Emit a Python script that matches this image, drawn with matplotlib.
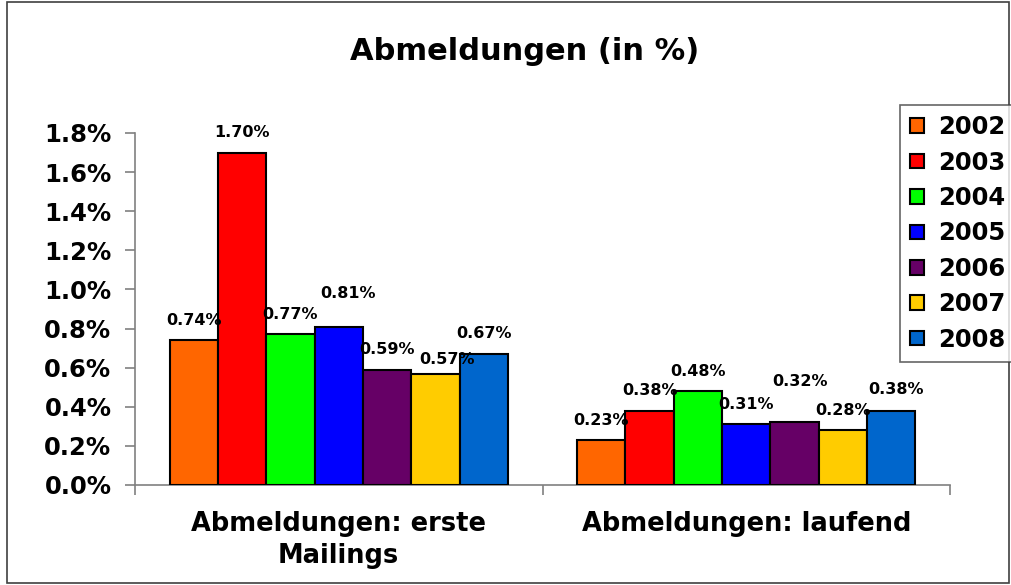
import matplotlib
matplotlib.use("Agg")
import matplotlib.pyplot as plt
import numpy as np
from matplotlib.patches import Rectangle
from matplotlib.ticker import FuncFormatter, FixedLocator

categories = ["Abmeldungen: erste\nMailings", "Abmeldungen: laufend"]
years = ["2002", "2003", "2004", "2005", "2006", "2007", "2008"]
values = {
    "2002": [0.74, 0.23],
    "2003": [1.70, 0.38],
    "2004": [0.77, 0.48],
    "2005": [0.81, 0.31],
    "2006": [0.59, 0.32],
    "2007": [0.57, 0.28],
    "2008": [0.67, 0.38],
}
colors = ["#FF6600", "#FF0000", "#00FF00", "#0000FF", "#660066", "#FFCC00", "#0066CC"]
yticks = [0.0, 0.2, 0.4, 0.6, 0.8, 1.0, 1.2, 1.4, 1.6, 1.8]

# label nudges (pixels: dx, dy above bar top) where the reference deviates
label_nudge = {("2005", 0): (9, 33), ("2007", 0): (12, 14),
               ("2006", 1): (5, 41), ("2008", 1): (5, 21)}
default_dy = 20

fig = plt.figure(figsize=(10.12, 5.85), dpi=100)
ax = fig.add_axes([135/1012, 1-485/585, (950-135)/1012, (485-133)/585])

# figure border
fig.patches.append(Rectangle((7/1012, 2/585), (1009-7)/1012, (583-2)/585,
                             transform=fig.transFigure, fill=False,
                             edgecolor="#404040", linewidth=1.2))

px2pt = 72 / 100
n = len(years)
group_w = 0.83
bw = group_w / n
x = np.arange(len(categories))
for i, (yr, c) in enumerate(zip(years, colors)):
    pos = x - group_w/2 + bw*(i+0.5)
    bars = ax.bar(pos, values[yr], width=bw, color=c, edgecolor="black",
                  linewidth=1.5, label=yr, zorder=3)
    for j, (b, v) in enumerate(zip(bars, values[yr])):
        dx, dy = label_nudge.get((yr, j), (0, default_dy))
        ax.annotate(f"{v:.2f}%", (b.get_x()+b.get_width()/2, v),
                    xytext=(dx*px2pt, dy*px2pt), textcoords="offset points",
                    ha="center", va="center", fontsize=11.5, fontweight="bold",
                    zorder=4)

ax.set_xlim(-0.5, 1.5)
ax.set_ylim(0, 1.8)
ax.set_yticks(yticks)
ax.yaxis.set_major_formatter(FuncFormatter(lambda v, p: f"{v:.1f}%"))
ax.tick_params(axis="y", labelsize=17.5, colors="#808080", labelcolor="black",
               length=7, width=1.2, direction="out", pad=10)
for lab in ax.get_yticklabels():
    lab.set_fontweight("bold")

ax.xaxis.set_major_locator(FixedLocator([-0.5, 0.5, 1.5]))
ax.set_xticklabels([])
ax.xaxis.set_minor_locator(FixedLocator(list(x)))
ax.set_xticklabels(categories, minor=True, fontsize=18.5, fontweight="bold",
                   linespacing=1.28)
ax.tick_params(axis="x", which="major", length=7, width=1.2, colors="#808080", direction="out")
ax.tick_params(axis="x", which="minor", length=0, pad=19, labelcolor="black")

for s in ["top", "right"]:
    ax.spines[s].set_visible(False)
for s in ["left", "bottom"]:
    ax.spines[s].set_color("#808080")
    ax.spines[s].set_linewidth(1.2)

fig.text(525/1012, 1-51/585, "Abmeldungen (in %)", ha="center", va="center",
         fontsize=22, fontweight="bold")

leg = fig.legend(loc="upper left", bbox_to_anchor=(900/1012, 1-105/585),
                 bbox_transform=fig.transFigure,
                 prop={"size": 17.5, "weight": "bold"}, frameon=True,
                 fancybox=False, edgecolor="#404040", labelspacing=0.47,
                 handlelength=0.55, handleheight=0.55, handletextpad=0.6,
                 borderpad=0.42, borderaxespad=0)
leg.get_frame().set_linewidth(1.2)

fig.savefig("out.png", dpi=100)
